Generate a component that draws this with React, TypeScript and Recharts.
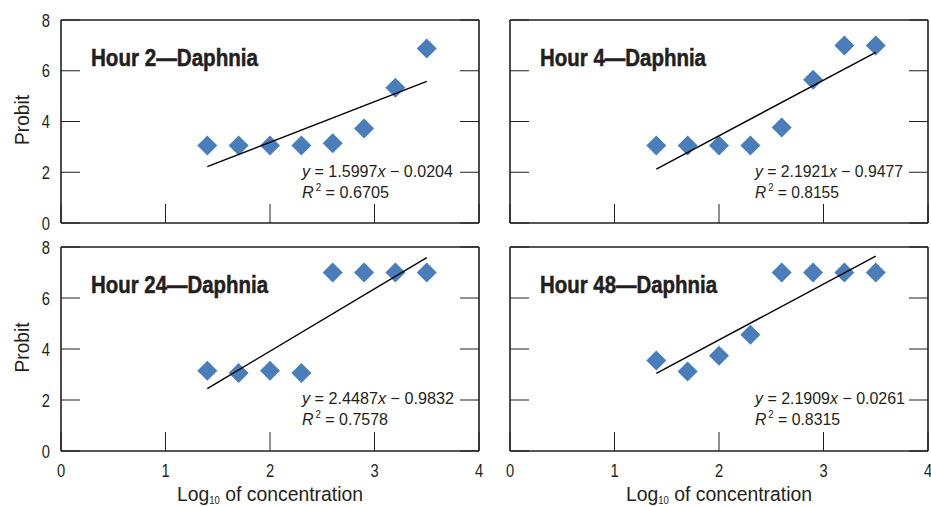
import React from "react";
import { Scatter, ScatterChart, XAxis, YAxis } from "recharts";

// log10 concentration of each test level
const X_VALUES = [1.4, 1.7, 2.0, 2.3, 2.6, 2.9, 3.2, 3.5];

// probit responses
const HOUR_2 = [3.05, 3.05, 3.05, 3.05, 3.14, 3.72, 5.33, 6.88];
const HOUR_4 = [3.05, 3.05, 3.05, 3.05, 3.76, 5.65, 7.0, 7.0];
const HOUR_24 = [3.15, 3.06, 3.15, 3.06, 7.0, 7.0, 7.0, 7.0];
const HOUR_48 = [3.55, 3.12, 3.74, 4.56, 7.0, 7.0, 7.0, 7.0];

const TITLES = [
  "Hour 2—Daphnia",
  "Hour 4—Daphnia",
  "Hour 24—Daphnia",
  "Hour 48—Daphnia",
];
const SLOPES = [1.5997, 2.1921, 2.4487, 2.1909];
const INTERCEPTS = [-0.0204, -0.9477, -0.9832, -0.0261];
const R_SQUARED = ["0.6705", "0.8155", "0.7578", "0.8315"];

const FIT_RANGE = [1.4, 3.5];
const X_TICKS = [0, 1, 2, 3, 4];
const Y_TICKS = [0, 2, 4, 6, 8];

const SERIES = [HOUR_2, HOUR_4, HOUR_24, HOUR_48];

const FONT = "'Liberation Sans', Arial, sans-serif";
const INK = "#231f20";
const BLUE = "#4a7ebb";

// plot-area placement of each panel (page coordinates) + text widths
// (the original face is a condensed one, so text is squeezed with textLength)
const PANELS = [
  { left: 61, top: 20, height: 203, showX: false, showY: true, eqX: 241, titleW: 167, eqW: 151, r2W: 87 },
  { left: 510, top: 20, height: 203, showX: false, showY: false, eqX: 245, titleW: 166, eqW: 148, r2W: 84 },
  { left: 61, top: 247, height: 204, showX: true, showY: true, eqX: 241, titleW: 177, eqW: 152, r2W: 86 },
  { left: 510, top: 247, height: 204, showX: true, showY: false, eqX: 245, titleW: 177, eqW: 150, r2W: 85 },
];
const PLOT_W = 418;
const RIGHT_PAD = 12;

const Diamond = (props: any) => {
  const { cx, cy } = props;
  if (cx == null || cy == null) return <g />;
  const r = 10;
  return (
    <path
      d={`M${cx},${cy - r}L${cx + r},${cy}L${cx},${cy + r}L${cx - r},${cy}Z`}
      fill={BLUE}
    />
  );
};

const NoDot = () => <g />;

const axisLine = { stroke: INK, strokeWidth: 1.6 };
const tickLine = { stroke: INK, strokeWidth: 1 };

const makeXTick = (show: boolean) => (props: any) => {
  if (!show) return <g />;
  const { y, payload } = props;
  const cx = payload?.coordinate ?? props.x;
  return (
    <text
      x={cx}
      y={y + 13}
      textAnchor="middle"
      fontSize={18}
      fill={INK}
      fontFamily={FONT}
      textLength={8.2}
      lengthAdjust="spacingAndGlyphs"
    >
      {payload.value}
    </text>
  );
};

const makeYTick = (show: boolean) => (props: any) => {
  if (!show) return <g />;
  const { x, y, payload } = props;
  return (
    <text
      x={x}
      y={y + 6.5}
      textAnchor="end"
      fontSize={18}
      fill={INK}
      fontFamily={FONT}
      textLength={8.2}
      lengthAdjust="spacingAndGlyphs"
    >
      {payload.value}
    </text>
  );
};

const hiddenTick = makeXTick(false);

function Panel({ idx }: { idx: number }) {
  const p = PANELS[idx];
  const points = X_VALUES.map((x, i) => ({ x, y: SERIES[idx][i] }));
  const fit = FIT_RANGE.map((x) => ({
    x,
    y: SLOPES[idx] * x + INTERCEPTS[idx],
  }));

  return (
    <div style={{ position: "absolute", left: p.left - 61, top: p.top - 20 }}>
      <ScatterChart
        width={61 + PLOT_W + 1 + RIGHT_PAD}
        height={20 + p.height + 45}
        margin={{ top: 19, right: RIGHT_PAD, bottom: 0, left: 0 }}
      >
        <XAxis
          xAxisId="b"
          orientation="bottom"
          dataKey="x"
          type="number"
          domain={[0, 4]}
          ticks={X_TICKS}
          interval={0}
          height={45}
          tickSize={-19}
          tickMargin={32}
          tick={makeXTick(p.showX)}
          axisLine={axisLine}
          tickLine={tickLine}
          allowDataOverflow
        />
        <XAxis
          xAxisId="t"
          orientation="top"
          type="number"
          domain={[0, 4]}
          ticks={X_TICKS}
          interval={0}
          height={1}
          tickSize={-19}
          tick={hiddenTick}
          axisLine={axisLine}
          tickLine={tickLine}
          allowDataOverflow
        />
        <YAxis
          yAxisId="l"
          orientation="left"
          dataKey="y"
          type="number"
          domain={[0, 8]}
          ticks={Y_TICKS}
          interval={0}
          width={61}
          tickSize={-19}
          tickMargin={30}
          tick={makeYTick(p.showY)}
          axisLine={axisLine}
          tickLine={tickLine}
          allowDataOverflow
        />
        <YAxis
          yAxisId="r"
          orientation="right"
          type="number"
          domain={[0, 8]}
          ticks={Y_TICKS}
          interval={0}
          width={1}
          tickSize={-19}
          tick={hiddenTick}
          axisLine={axisLine}
          tickLine={tickLine}
          allowDataOverflow
        />
        <Scatter
          xAxisId="b"
          yAxisId="l"
          data={points}
          shape={Diamond}
          isAnimationActive={false}
        />
        <Scatter
          xAxisId="b"
          yAxisId="l"
          data={fit}
          line={{ stroke: "#000", strokeWidth: 1.4 }}
          shape={NoDot}
          isAnimationActive={false}
        />
      </ScatterChart>
    </div>
  );
}

export default function App() {
  return (
    <div
      style={{
        position: "absolute",
        left: 0,
        top: 0,
        width: 931,
        height: 506,
        overflow: "hidden",
        background: "#fff",
      }}
    >
      {PANELS.map((_, i) => (
        <Panel key={i} idx={i} />
      ))}
      <svg
        width={931}
        height={506}
        style={{ position: "absolute", left: 0, top: 0, pointerEvents: "none" }}
        fontFamily={FONT}
        fill={INK}
      >
        {PANELS.map((p, i) => (
          <g key={i}>
            <text
              x={p.left + 30}
              y={p.top + 45.5}
              fontSize={23}
              fontWeight="bold"
              stroke={INK}
              strokeWidth={0.5}
              textLength={p.titleW}
              lengthAdjust="spacingAndGlyphs"
            >
              {TITLES[i]}
            </text>
            <text
              x={p.left + p.eqX}
              y={p.top + 157}
              fontSize={16.5}
              textLength={p.eqW}
              lengthAdjust="spacingAndGlyphs"
            >
              <tspan fontStyle="italic">y</tspan>
              {` = ${SLOPES[i].toFixed(4)}`}
              <tspan fontStyle="italic">x</tspan>
              {` − ${Math.abs(INTERCEPTS[i]).toFixed(4)}`}
            </text>
            <text
              x={p.left + p.eqX}
              y={p.top + 178}
              fontSize={16.5}
              textLength={p.r2W}
              lengthAdjust="spacingAndGlyphs"
            >
              <tspan fontStyle="italic">R</tspan>
              <tspan fontSize={10} dy={-7} dx={2}>
                2
              </tspan>
              <tspan dy={7}>{` = ${R_SQUARED[i]}`}</tspan>
            </text>
            {p.showY && (
              <text
                transform={`translate(29, ${p.top + p.height / 2 - 1.5}) rotate(-90)`}
                textAnchor="middle"
                fontSize={21}
                textLength={50}
                lengthAdjust="spacingAndGlyphs"
              >
                Probit
              </text>
            )}
            {p.showX && (
              <text
                x={p.left + PLOT_W / 2}
                y={500.5}
                textAnchor="middle"
                fontSize={20.5}
                textLength={186}
                lengthAdjust="spacingAndGlyphs"
              >
                Log
                <tspan fontSize={10} dy={3}>
                  10
                </tspan>
                <tspan dy={-3}> of concentration</tspan>
              </text>
            )}
          </g>
        ))}
      </svg>
    </div>
  );
}
